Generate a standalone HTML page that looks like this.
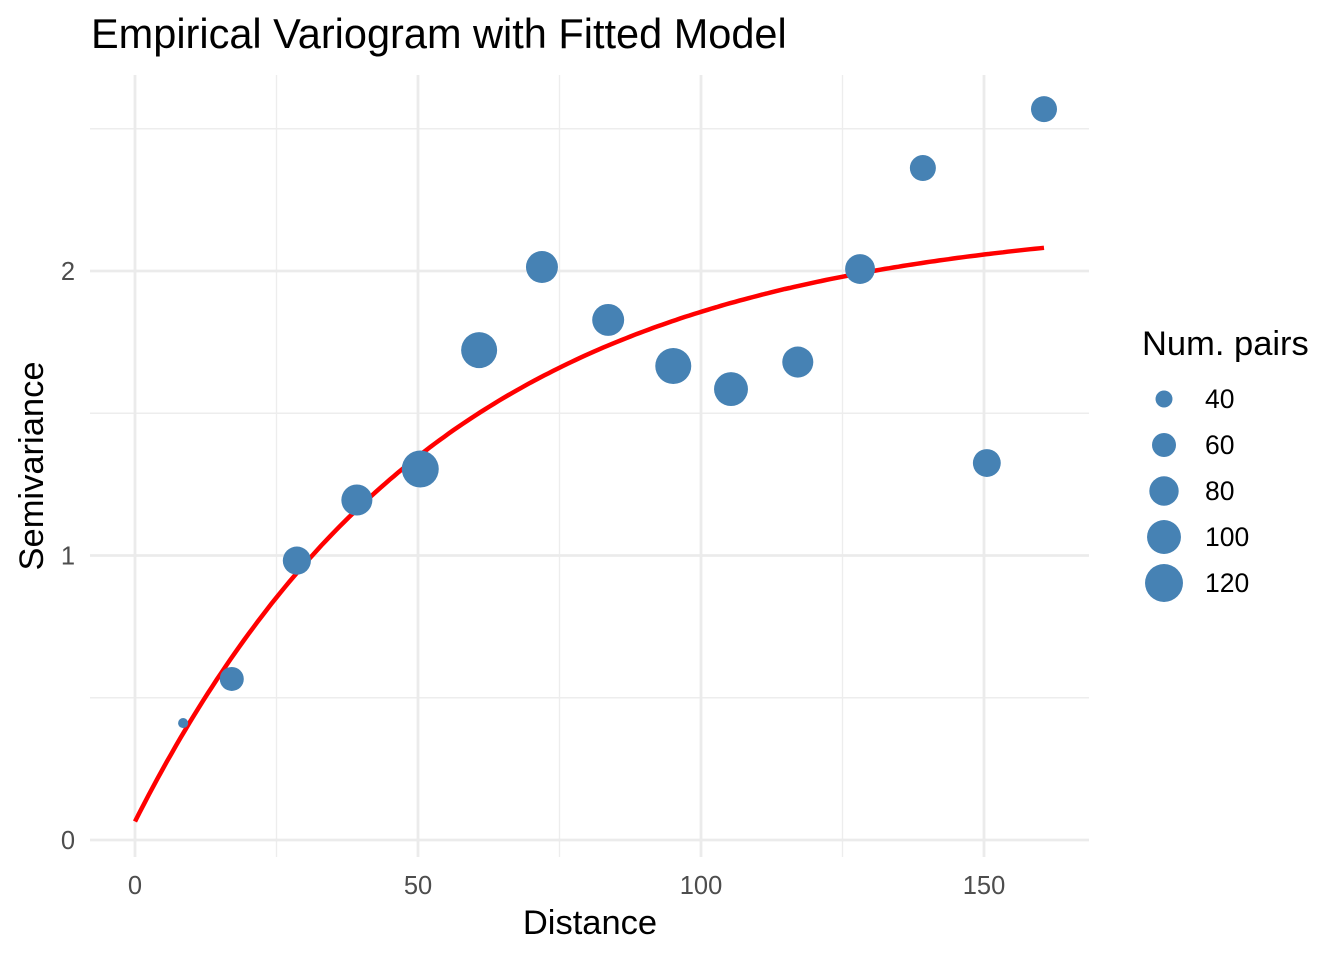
<!DOCTYPE html>
<html><head><meta charset="utf-8"><style>
body{margin:0;background:#fff}
svg text{font-family:"Liberation Sans",sans-serif}
</style></head><body>
<svg id="chart" width="1344" height="960" xmlns="http://www.w3.org/2000/svg">
<rect width="1344" height="960" fill="#fff"/>
<g id="grid"></g>
<g id="curve"></g>
<g id="points"></g>
<g id="axes"></g>
<text x="91" y="48" font-size="41.5" fill="#000">Empirical Variogram with Fitted Model</text>
<text x="590" y="934" font-size="34.5" text-anchor="middle">Distance</text>
<text transform="translate(43,466) rotate(-90)" font-size="34.5" text-anchor="middle">Semivariance</text>
<g id="legend"><text x="1142" y="355" font-size="34.5">Num. pairs</text></g>
</svg>
<script>
const dist=[8.5,17.1,28.6,39.2,50.4,60.8,71.9,83.6,95.1,105.3,117.1,128.1,139.2,150.5,160.6];
const gamma=[0.411,0.566,0.982,1.195,1.304,1.722,2.014,1.828,1.666,1.585,1.680,2.007,2.362,1.325,2.569];
const npairs=[27,60,75,87,115,110,91,91,110,100,87,82,67,74,67];
const xTicks=[0,50,100,150];
const yTicks=[0,1,2];
const legendVals=[40,60,80,100,120];
const nugget=0.065, psill=2.125, range=54;
const ns="http://www.w3.org/2000/svg";
const X=v=>135+v*5.66, Y=v=>840-v*284.5;
const R=n=>Math.sqrt(Math.max(3.6*n-72,16));
function mk(t,a,p){const e=document.createElementNS(ns,t);for(const k in a)e.setAttribute(k,a[k]);p.appendChild(e);return e;}
const grid=document.getElementById('grid');
[25,75,125].forEach(v=>{const l=mk('line',{x1:X(v),x2:X(v),y1:75,y2:857,stroke:'#ededed','stroke-width':1.4},grid);});
[0.5,1.5,2.5].forEach(v=>{const l=mk('line',{x1:90,x2:1089,y1:Y(v),y2:Y(v),stroke:'#ededed','stroke-width':1.4},grid);});
const axes=document.getElementById('axes');
xTicks.forEach(v=>{const l=mk('line',{x1:X(v),x2:X(v),y1:75,y2:857,stroke:'#ebebeb','stroke-width':2.8},grid);
const t=mk('text',{x:X(v),y:894,'font-size':25.5,fill:'#4d4d4d','text-anchor':'middle'},axes);t.textContent=v;});
yTicks.forEach(v=>{const l=mk('line',{x1:90,x2:1089,y1:Y(v),y2:Y(v),stroke:'#ebebeb','stroke-width':2.8},grid);
const t=mk('text',{x:75,y:Y(v)+9,'font-size':25.5,fill:'#4d4d4d','text-anchor':'end'},axes);t.textContent=v;});
const pts=document.getElementById('points');
dist.forEach((d,i)=>{const c=mk('circle',{cx:X(d),cy:Y(gamma[i]),r:R(npairs[i]),fill:'#4682b4'},pts);});
let pd='';const hmax=dist[dist.length-1];
for(let k=0;k<=200;k++){const h=hmax*k/200;const g=nugget+psill*(1-Math.exp(-h/range));pd+=(k?'L':'M')+X(h).toFixed(1)+','+Y(g).toFixed(1);}
const p=mk('path',{d:pd,fill:'none',stroke:'#ff0000','stroke-width':4.5},document.getElementById('curve'));

const lg=document.getElementById('legend');
legendVals.forEach((v,i)=>{const y=399+i*46;const c=mk('circle',{cx:1164,cy:y,r:R(v),fill:'#4682b4'},lg);
const t=mk('text',{x:1205,y:y+9,'font-size':26.5,fill:'#000'},lg);t.textContent=v;});
</script>
</body></html>
